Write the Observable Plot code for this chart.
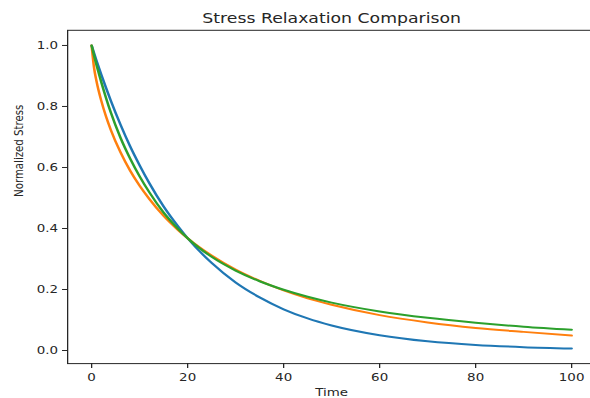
<!DOCTYPE html>
<html>
<head>
<meta charset="utf-8">
<script src="https://cdn.jsdelivr.net/npm/d3@7"></script>
<script src="https://cdn.jsdelivr.net/npm/@observablehq/plot@0.6"></script>
<style>
  html, body { margin: 0; padding: 0; background: #fff; overflow: hidden; }
</style>
</head>
<body>
<div id="chart"></div>
<script>
const title = "Stress Relaxation Comparison";
const xLabel = "Time";
const yLabel = "Normalized Stress";

const xTicks = [0, 20, 40, 60, 80, 100];
const yTicks = [0, 0.2, 0.4, 0.6, 0.8, 1.0];

const time = [0, 0.5, 1, 2, 3, 4, 6, 8, 10, 12, 15, 18, 20, 25, 30, 35, 40, 45, 50, 60, 70, 80, 90, 100];
const seriesA = [1, 0.975, 0.951, 0.905, 0.861, 0.819, 0.741, 0.670, 0.607, 0.549, 0.472, 0.407, 0.368, 0.287, 0.223, 0.174, 0.135, 0.105, 0.082, 0.050, 0.030, 0.018, 0.011, 0.0067];
const seriesB = [1, 0.927, 0.884, 0.819, 0.767, 0.723, 0.650, 0.590, 0.540, 0.497, 0.441, 0.395, 0.368, 0.311, 0.265, 0.228, 0.197, 0.171, 0.150, 0.116, 0.092, 0.074, 0.061, 0.049];
const seriesC = [1, 0.967, 0.937, 0.880, 0.828, 0.780, 0.698, 0.630, 0.571, 0.519, 0.452, 0.399, 0.368, 0.307, 0.262, 0.227, 0.199, 0.176, 0.157, 0.128, 0.107, 0.091, 0.078, 0.068];

const seriesNames = ["Model A", "Model B", "Model C"];
const seriesColors = ["#1f77b4", "#ff7f0e", "#2ca02c"];

const rows = [];
[seriesA, seriesB, seriesC].forEach((vals, k) => {
  vals.forEach((v, i) => rows.push({ series: seriesNames[k], t: time[i], v }));
});

const SX = 1.28;           // horizontal stretch of the reference picture
const W = 590 / SX;
const H = 398;
const ink = "#262626";
const font = "'DejaVu Sans', sans-serif";

const chart = Plot.plot({
  width: W,
  height: H,
  marginLeft: 67 / SX,
  marginRight: W - 595 / SX,
  marginTop: 29.8,
  marginBottom: 34.9,
  style: { fontFamily: font, color: ink, background: "white" },
  x: { domain: [-5, 105] },
  y: { domain: [-0.043, 1.0497] },
  color: { type: "ordinal", domain: seriesNames, range: seriesColors },
  marks: [
    Plot.line(rows, { x: "t", y: "v", z: "series", stroke: "series", strokeWidth: 2, curve: "monotone-x" }),
    Plot.frame({ stroke: ink, strokeWidth: 1 }),
    Plot.axisX(xTicks, { tickSize: 5, tickPadding: 5, fontSize: 10.5, label: null }),
    Plot.axisY(yTicks, { tickSize: 3.9, tickPadding: 3.5, fontSize: 10.5, label: null, tickFormat: d3.format(".1f") }),
    Plot.text([title], { frameAnchor: "top", dy: -7.5, lineAnchor: "bottom", fontSize: 13.5, fill: ink }),
    Plot.text([xLabel], { frameAnchor: "bottom", dy: 32, lineAnchor: "bottom", fontSize: 10.5, fill: ink }),
    Plot.text([yLabel], { frameAnchor: "left", dx: -38.3, rotate: -90, lineAnchor: "middle", fontSize: 10.2, fill: ink })
  ]
});

chart.setAttribute("width", 590);
chart.setAttribute("height", 398);
chart.setAttribute("preserveAspectRatio", "none");
chart.style.width = "590px";
chart.style.height = "398px";
chart.style.maxWidth = "none";
document.getElementById("chart").appendChild(chart);
</script>
</body>
</html>
